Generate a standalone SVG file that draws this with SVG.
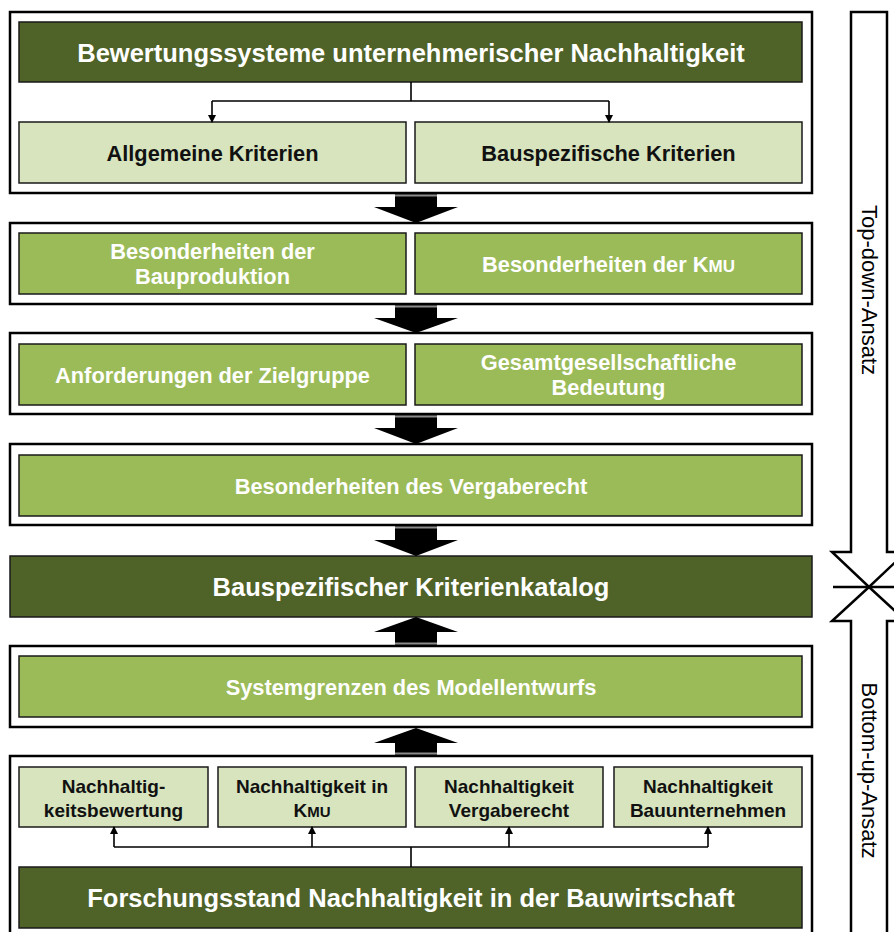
<svg xmlns="http://www.w3.org/2000/svg" width="894" height="932" viewBox="0 0 894 932">
  <style>
    .frame { fill: #ffffff; stroke: #000000; stroke-width: 2.5; }
    .dark { fill: #4f6228; stroke: #1a1a1a; stroke-width: 1.5; }
    .mid { fill: #9bbb59; stroke: #1a1a1a; stroke-width: 1.5; }
    .light { fill: #d7e4bd; stroke: #1a1a1a; stroke-width: 1.5; }
    text { font-family: "Liberation Sans", Arial, sans-serif; font-weight: bold; text-anchor: middle; }
    .big { font-size: 25.5px; fill: #ffffff; }
    .w { font-size: 21.8px; fill: #ffffff; }
    .b { font-size: 21.8px; fill: #111111; }
    .s { font-size: 19px; fill: #111111; }
    .side { font-weight: normal; font-size: 22px; fill: #000000; }
    .line { fill: none; stroke: #000000; stroke-width: 1.6; }
    .bigarrow { fill: #000000; }
    .shade { fill: #8c8c8c; }
    .sidearrow { fill: #ffffff; stroke: #000000; stroke-width: 2.5; }
  </style>
  <defs>
    <marker id="tip" markerWidth="8" markerHeight="8" refX="7" refY="4" orient="auto" markerUnits="userSpaceOnUse">
      <path d="M0,0 L8,4 L0,8 Z" fill="#000000"/>
    </marker>
  </defs>

  <!-- side column: top-down and bottom-up arrows -->
  <g id="side-arrows">
    <path class="sidearrow" d="M851,12 H887 V552 H906 L869,587 L832,552 H851 Z"/>
    <path class="sidearrow" d="M851,945 V621 H832 L869,587 L906,621 H887 V945"/>
    <line x1="833" y1="587" x2="900" y2="587" stroke="#000000" stroke-width="2.5"/>
    <text class="side" transform="translate(862 290) rotate(90)">Top-down-Ansatz</text>
    <text class="side" transform="translate(862 770.5) rotate(90)">Bottom-up-Ansatz</text>
  </g>

  <!-- frame 1 -->
  <g id="frame1">
    <rect class="frame" x="10" y="12" width="802" height="181"/>
  </g>
  <g id="bewertungssysteme">
    <rect class="dark" x="19" y="22" width="783" height="60"/>
    <text class="big" x="411" y="61.5">Bewertungssysteme unternehmerischer Nachhaltigkeit</text>
  </g>
  <g id="allgemeine-kriterien">
    <rect class="light" x="19" y="122" width="387" height="61"/>
    <text class="b" x="212.5" y="160.5">Allgemeine Kriterien</text>
  </g>
  <g id="bauspezifische-kriterien">
    <rect class="light" x="415" y="122" width="387" height="61"/>
    <text class="b" x="608.5" y="160.5">Bauspezifische Kriterien</text>
  </g>

  <!-- frame 2 -->
  <g id="frame2">
    <rect class="frame" x="10" y="223" width="802" height="81"/>
  </g>
  <g id="besonderheiten-bauproduktion">
    <rect class="mid" x="19" y="233" width="387" height="61"/>
    <text class="w"><tspan x="212.5" y="258.5">Besonderheiten der</tspan><tspan x="212.5" y="284">Bauproduktion</tspan></text>
  </g>
  <g id="besonderheiten-kmu">
    <rect class="mid" x="415" y="233" width="387" height="61"/>
    <text class="w" x="608.5" y="271.5">Besonderheiten der K<tspan font-size="17px">MU</tspan></text>
  </g>

  <!-- frame 3 -->
  <g id="frame3">
    <rect class="frame" x="10" y="333" width="802" height="81"/>
  </g>
  <g id="anforderungen-zielgruppe">
    <rect class="mid" x="19" y="344" width="387" height="61"/>
    <text class="w" x="212.5" y="382.5">Anforderungen der Zielgruppe</text>
  </g>
  <g id="gesamtgesellschaftliche-bedeutung">
    <rect class="mid" x="415" y="344" width="387" height="61"/>
    <text class="w"><tspan x="608.5" y="369.5">Gesamtgesellschaftliche</tspan><tspan x="608.5" y="395">Bedeutung</tspan></text>
  </g>

  <!-- frame 4 -->
  <g id="frame4">
    <rect class="frame" x="10" y="444" width="802" height="81"/>
  </g>
  <g id="besonderheiten-vergaberecht">
    <rect class="mid" x="19" y="455" width="783" height="61"/>
    <text class="w" x="411" y="493.5">Besonderheiten des Vergaberecht</text>
  </g>

  <!-- catalogue -->
  <g id="kriterienkatalog">
    <rect class="dark" x="10" y="556" width="802" height="61" stroke="#000000" stroke-width="2"/>
    <text class="big" x="411" y="595.5">Bauspezifischer Kriterienkatalog</text>
  </g>

  <!-- frame 5 -->
  <g id="frame5">
    <rect class="frame" x="10" y="646" width="802" height="81"/>
  </g>
  <g id="systemgrenzen">
    <rect class="mid" x="19" y="656" width="783" height="61"/>
    <text class="w" x="411" y="694.5">Systemgrenzen des Modellentwurfs</text>
  </g>

  <!-- frame 6 -->
  <g id="frame6">
    <rect class="frame" x="10" y="756" width="802" height="190"/>
  </g>
  <g id="nachhaltigkeitsbewertung">
    <rect class="light" x="19" y="767" width="189" height="60"/>
    <text class="s"><tspan x="113.5" y="793">Nachhaltig-</tspan><tspan x="113.5" y="816.5">keitsbewertung</tspan></text>
  </g>
  <g id="nachhaltigkeit-kmu">
    <rect class="light" x="218" y="767" width="188" height="60"/>
    <text class="s"><tspan x="312" y="793">Nachhaltigkeit in</tspan><tspan x="312" y="816.5">K<tspan font-size="15px">MU</tspan></tspan></text>
  </g>
  <g id="nachhaltigkeit-vergaberecht">
    <rect class="light" x="415" y="767" width="188" height="60"/>
    <text class="s"><tspan x="509" y="793">Nachhaltigkeit</tspan><tspan x="509" y="816.5">Vergaberecht</tspan></text>
  </g>
  <g id="nachhaltigkeit-bauunternehmen">
    <rect class="light" x="614" y="767" width="188" height="60"/>
    <text class="s"><tspan x="708" y="793">Nachhaltigkeit</tspan><tspan x="708" y="816.5">Bauunternehmen</tspan></text>
  </g>
  <g id="forschungsstand">
    <rect class="dark" x="19" y="867" width="783" height="61"/>
    <text class="big" x="411" y="906.5">Forschungsstand Nachhaltigkeit in der Bauwirtschaft</text>
  </g>

  <!-- connectors -->
  <g id="connectors">
    <path class="line" d="M411,82 V101 M212,101 H609"/>
    <line class="line" x1="212" y1="101" x2="212" y2="122" marker-end="url(#tip)"/>
    <line class="line" x1="609" y1="101" x2="609" y2="122" marker-end="url(#tip)"/>

    <path class="line" d="M411,867 V847 M114,847 H708"/>
    <line class="line" x1="114" y1="847" x2="114" y2="827" marker-end="url(#tip)"/>
    <line class="line" x1="312" y1="847" x2="312" y2="827" marker-end="url(#tip)"/>
    <line class="line" x1="509" y1="847" x2="509" y2="827" marker-end="url(#tip)"/>
    <line class="line" x1="708" y1="847" x2="708" y2="827" marker-end="url(#tip)"/>

    <!-- block arrows, top-down -->
    <path class="bigarrow" d="M395,194 H437 V207 H458 L416,223 L374,207 H395 Z"/>
    <rect class="shade" x="395" y="194.5" width="42" height="2"/>
    <path class="bigarrow" d="M395,305 H437 V318 H458 L416,333 L374,318 H395 Z"/>
    <rect class="shade" x="395" y="305.5" width="42" height="2"/>
    <path class="bigarrow" d="M395,415 H437 V428 H458 L416,444 L374,428 H395 Z"/>
    <rect class="shade" x="395" y="415.5" width="42" height="2"/>
    <path class="bigarrow" d="M395,526 H437 V540 H458 L416,556 L374,540 H395 Z"/>
    <rect class="shade" x="395" y="526.5" width="42" height="2"/>

    <!-- block arrows, bottom-up -->
    <path class="bigarrow" d="M395,645 H437 V632 H458 L416,617 L374,632 H395 Z"/>
    <rect class="shade" x="395" y="642.5" width="42" height="2"/>
    <path class="bigarrow" d="M395,755 H437 V743 H458 L416,728 L374,743 H395 Z"/>
    <rect class="shade" x="395" y="752.5" width="42" height="2"/>
  </g>
</svg>
